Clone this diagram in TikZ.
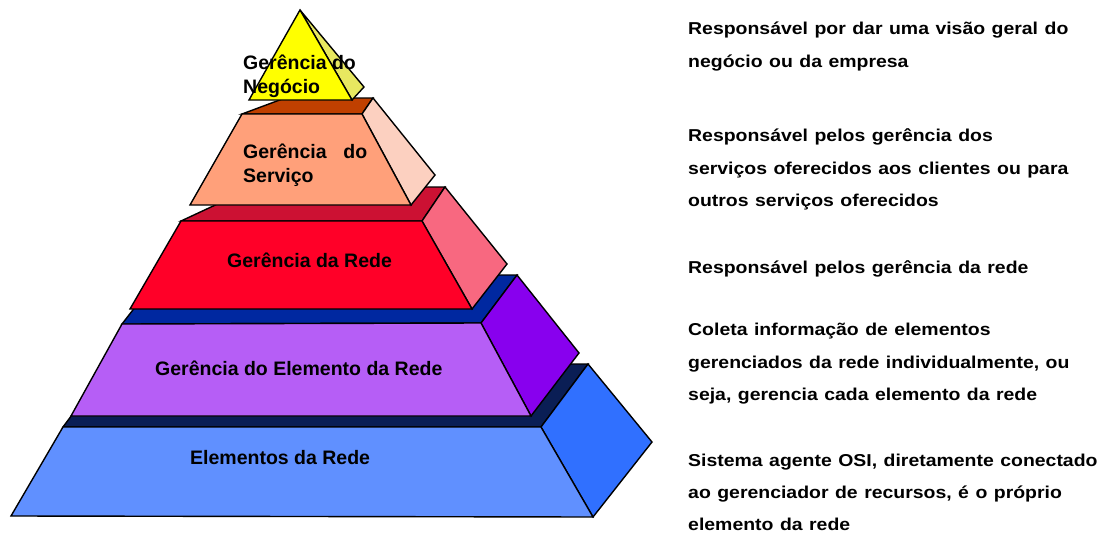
\documentclass[tikz,border=0pt]{standalone}
\usepackage{fontspec}
\setmainfont{Liberation Sans}
\newfontfamily\descfont[FakeStretch=1.13,BoldFeatures={FakeStretch=1.13},WordSpace=1.2]{Liberation Sans}
\definecolor{ytop}{RGB}{255,255,0}
\definecolor{yside}{RGB}{232,232,96}
\definecolor{brtop}{RGB}{192,64,0}
\definecolor{safront}{RGB}{255,160,122}
\definecolor{saside}{RGB}{252,208,192}
\definecolor{crtop}{RGB}{204,17,51}
\definecolor{rdfront}{RGB}{255,0,40}
\definecolor{rdside}{RGB}{248,104,128}
\definecolor{rbtop}{RGB}{0,40,160}
\definecolor{pufront}{RGB}{182,94,246}
\definecolor{puside}{RGB}{136,0,238}
\definecolor{nvtop}{RGB}{10,30,85}
\definecolor{blfront}{RGB}{96,144,255}
\definecolor{blside}{RGB}{48,112,255}
\tikzset{
  face/.style={draw=black,line width=1.4pt,line join=miter},
  lbl/.style={font=\fontsize{19.5}{23}\selectfont\bfseries,anchor=base west,inner sep=0pt},
  desc/.style={font=\descfont\fontsize{17.2}{32}\selectfont\bfseries,anchor=base west,inner sep=0pt}
}
\begin{document}
\begin{tikzpicture}[x=1pt,y=-1pt]
\useasboundingbox (0,0) rectangle (1106,535);
% bottom layer
\path[face,fill=nvtop] (63,427) -- (541,427) -- (588,364) -- (110,364) -- cycle;
\path[face,fill=blside] (541,427) -- (588,364) -- (652,442) -- (593,517) -- cycle;
\path[face,fill=blfront] (63,427) -- (541,427) -- (593,517) -- (11,516) -- cycle;
% purple layer
\path[face,fill=rbtop] (122,324) -- (481,323) -- (517,275) -- (160,275) -- cycle;
\path[face,fill=puside] (481,323) -- (517,275) -- (579,353) -- (531,416) -- cycle;
\path[face,fill=pufront] (122,324) -- (481,323) -- (531,416) -- (71,416) -- cycle;
% red layer
\path[face,fill=crtop] (181,221) -- (422,221) -- (445,187) -- (254,187) -- cycle;
\path[face,fill=rdside] (422,221) -- (445,187) -- (507,264) -- (472,309) -- cycle;
\path[face,fill=rdfront] (181,221) -- (422,221) -- (472,309) -- (130,309) -- cycle;
% salmon layer
\path[face,fill=brtop] (242,114) -- (362,114) -- (373,98) -- (285,98) -- cycle;
\path[face,fill=saside] (362,114) -- (373,98) -- (435,175) -- (411,205) -- cycle;
\path[face,fill=safront] (242,114) -- (362,114) -- (411,205) -- (190,205) -- cycle;
% yellow tip
\path[face,fill=yside] (300,10) -- (352,100) -- (364,87) -- cycle;
\path[face,fill=ytop] (300,10) -- (249,100) -- (352,100) -- cycle;
% pyramid labels
\node[lbl] (neg1) at (243,70) {Gerência do};
\node[lbl] (neg2) at (243,93) {Negócio};
\node[lbl] (ser1) at (243,158) {\makebox[124pt][s]{Gerência do}};
\node[lbl] (ser2) at (243,182) {Serviço};
\node[lbl] (rede) at (227,267) {Gerência da Rede};
\node[lbl] (elem) at (155,375) {Gerência do Elemento da Rede};
\node[lbl] (elts) at (190,464) {Elementos da Rede};
% descriptions
\node[desc] (d1a) at (688,35) {Responsável por dar uma visão geral do};
\node[desc] (d1b) at (688,67.5) {negócio ou da empresa};
\node[desc] (d2a) at (688,141.5) {Responsável pelos gerência dos};
\node[desc] (d2b) at (688,174) {serviços oferecidos aos clientes ou para};
\node[desc] (d2c) at (688,206) {outros serviços oferecidos};
\node[desc] (d3a) at (688,273) {Responsável pelos gerência da rede};
\node[desc] (d4a) at (688,335.5) {Coleta informação de elementos};
\node[desc] (d4b) at (688,368) {gerenciados da rede individualmente, ou};
\node[desc] (d4c) at (688,400.5) {seja, gerencia cada elemento da rede};
\node[desc] (d5a) at (688,466) {Sistema agente OSI, diretamente conectado};
\node[desc] (d5b) at (688,498.5) {ao gerenciador de recursos, é o próprio};
\node[desc] (d5c) at (688,530) {elemento da rede};
\end{tikzpicture}
\end{document}
